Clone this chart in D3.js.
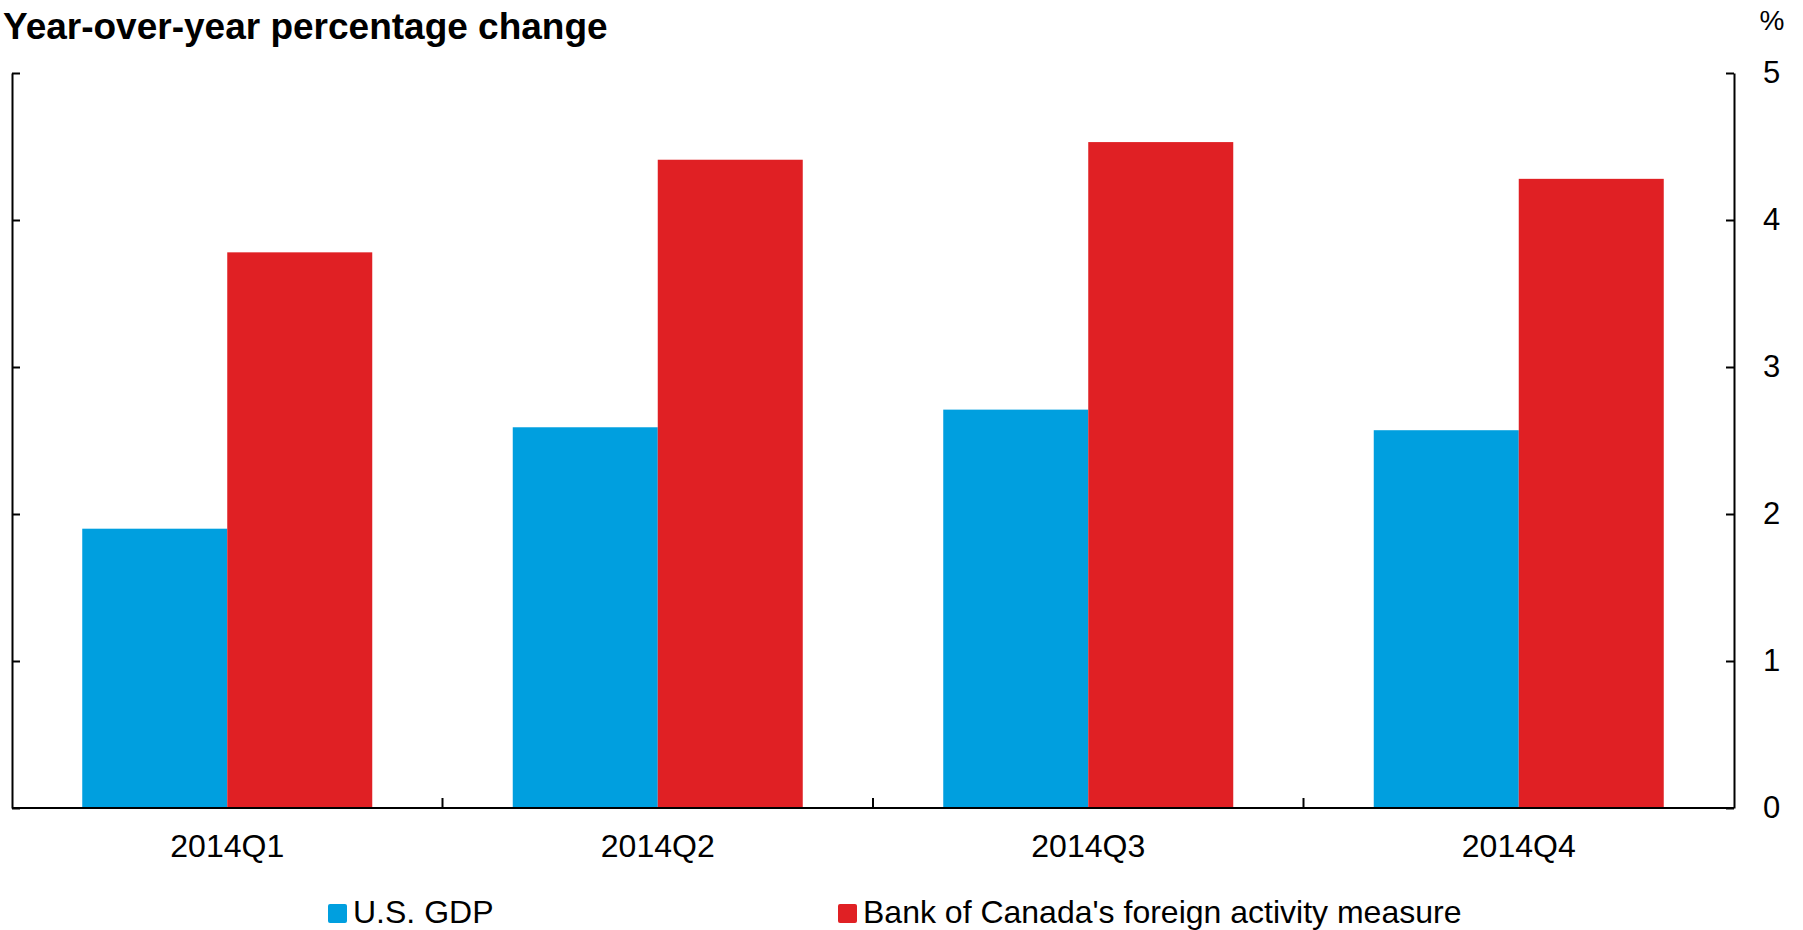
<!DOCTYPE html>
<html>
<head>
<meta charset="utf-8">
<script src="https://cdn.jsdelivr.net/npm/d3@7"></script>
<style>
  html, body { margin: 0; padding: 0; background: #fff; }
  svg { display: block; font-family: "Liberation Sans", Arial, sans-serif; }
</style>
</head>
<body>
<svg id="chart" width="1803" height="930"></svg>
<script>
// Quarters on the horizontal axis
const quarters = ["2014Q1", "2014Q2", "2014Q3", "2014Q4"];
// Year-over-year % change
const usGdp = [1.90, 2.59, 2.71, 2.57];
const fam = [3.78, 4.41, 4.53, 4.28];
const seriesNames = ["U.S. GDP", "Bank of Canada's foreign activity measure"];
const seriesColors = ["#009FDF", "#E02024"];
const yTicks = [0, 1, 2, 3, 4, 5];

const svg = d3.select("#chart");
const plotLeft = 12, plotRight = 1734, plotTop = 73, plotBottom = 808;

const x0 = d3.scaleBand().domain(quarters).range([plotLeft, plotRight]).padding(0);
const groupWidth = 290;
const groupOffset = (x0.bandwidth() - groupWidth) / 2;
const x1 = d3.scaleBand().domain([0, 1]).range([0, groupWidth]).padding(0);
const y = d3.scaleLinear().domain([0, 5]).range([plotBottom, plotTop]);

const rows = quarters.map((q, i) => ({ q, vals: [usGdp[i], fam[i]] }));

// Bars
const groups = svg.append("g").selectAll("g").data(rows).join("g")
  .attr("transform", d => `translate(${x0(d.q) + groupOffset},0)`);
groups.selectAll("rect").data(d => d.vals).join("rect")
  .attr("x", (v, i) => x1(i))
  .attr("width", x1.bandwidth())
  .attr("y", v => y(v))
  .attr("height", v => y(0) - y(v))
  .attr("fill", (v, i) => seriesColors[i]);

// Left axis: inward ticks, no labels
svg.append("g").attr("transform", `translate(${plotLeft},0)`)
  .call(d3.axisLeft(y).tickValues(yTicks).tickSizeInner(-8).tickSizeOuter(0).tickFormat(""))
  .call(g => g.selectAll("path,line").attr("stroke", "#000").attr("stroke-width", 2));

// Right axis: inward ticks, labels on the outside
svg.append("g").attr("transform", `translate(${plotRight},0)`)
  .call(d3.axisRight(y).tickValues(yTicks).tickSizeInner(-8).tickSizeOuter(0).tickPadding(29).tickFormat(d3.format("d")))
  .call(g => g.selectAll("path,line").attr("stroke", "#000").attr("stroke-width", 2))
  .call(g => g.selectAll("text").attr("font-size", 31).attr("fill", "#000")
    .attr("font-family", "Liberation Sans, Arial, sans-serif").attr("text-anchor", "start"));

// Bottom axis line with ticks between quarters
svg.append("line")
  .attr("x1", plotLeft).attr("x2", plotRight).attr("y1", y(0)).attr("y2", y(0))
  .attr("stroke", "#000").attr("stroke-width", 2);
svg.append("g").selectAll("line").data(quarters.slice(1)).join("line")
  .attr("x1", d => x0(d)).attr("x2", d => x0(d))
  .attr("y1", y(0)).attr("y2", y(0) - 10)
  .attr("stroke", "#000").attr("stroke-width", 2);

// Quarter labels
svg.append("g").selectAll("text").data(quarters).join("text")
  .attr("x", d => x0(d) + x0.bandwidth() / 2)
  .attr("y", 857)
  .attr("text-anchor", "middle")
  .attr("font-size", 32)
  .text(d => d);

// Title and unit
svg.append("text").attr("x", 3).attr("y", 39)
  .attr("font-size", 37).attr("font-weight", "bold").text("Year-over-year percentage change");
svg.append("text").attr("x", 1772).attr("y", 30)
  .attr("text-anchor", "middle").attr("font-size", 28).text("%");

// Legend
const legendX = [328, 838];
const legend = svg.append("g").selectAll("g").data(seriesNames).join("g")
  .attr("transform", (d, i) => `translate(${legendX[i]},923)`);
legend.append("rect").attr("x", 0).attr("y", -19).attr("width", 19).attr("height", 19)
  .attr("rx", 2).attr("fill", (d, i) => seriesColors[i]);
legend.append("text").attr("x", 25).attr("font-size", 32).text(d => d);
</script>
</body>
</html>
